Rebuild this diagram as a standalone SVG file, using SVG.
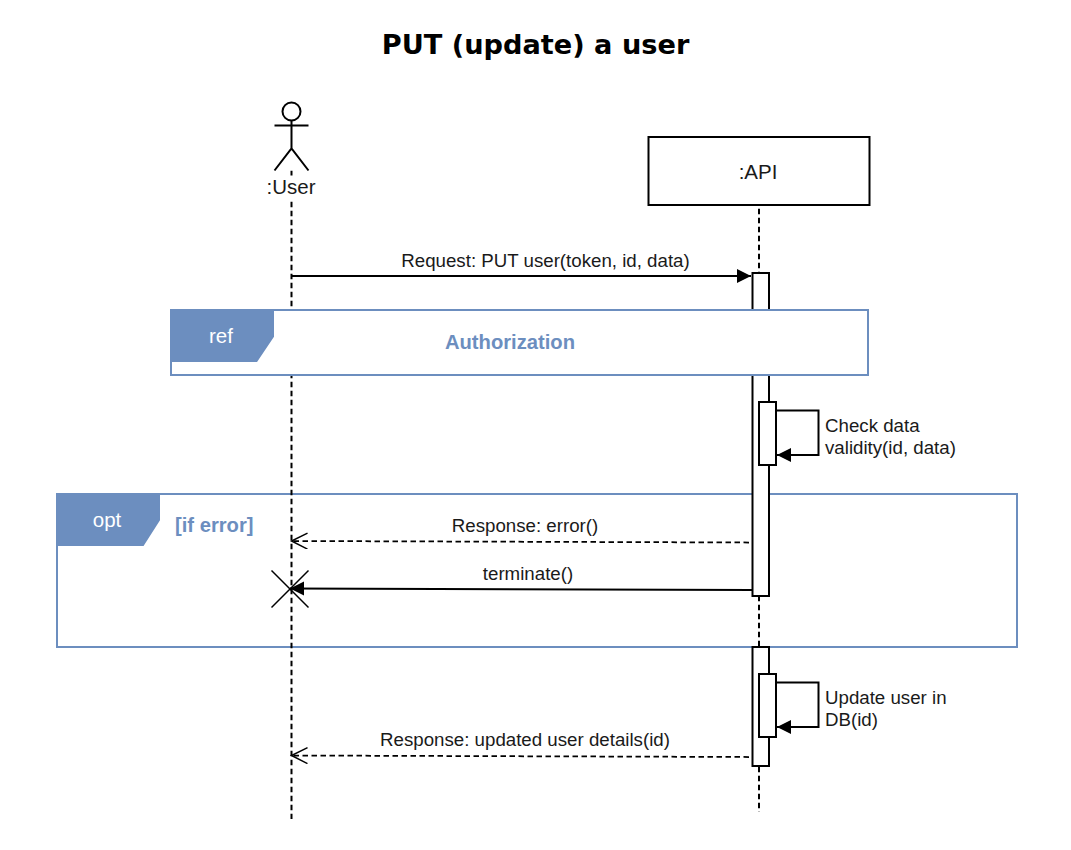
<svg xmlns="http://www.w3.org/2000/svg" width="1071" height="850" viewBox="0 0 1071 850">
<style>
text{font-family:"Liberation Sans",Arial,sans-serif;font-size:18.7px;fill:#1a1a1a}
.title{font-family:"DejaVu Sans",Verdana,sans-serif;font-size:27.2px;font-weight:bold;fill:#000}
.actor{font-size:20.500px}
.line{fill:none;stroke:#000;stroke-width:2}
.life{fill:none;stroke:#000;stroke-width:2;stroke-dasharray:5.500 3.500}
.dash{fill:none;stroke:#000;stroke-width:1.750;stroke-dasharray:5.500 3.500}
.box{fill:#fff;stroke:#000;stroke-width:2}
.frame{fill:none;stroke:#6c8ebf;stroke-width:2}
.framew{fill:#fff;stroke:#6c8ebf;stroke-width:2}
.tab{fill:#6c8ebf;stroke:#6c8ebf;stroke-width:2}
.tabt{fill:#fff;text-anchor:middle;font-size:20.500px}
.guard{fill:#6c8ebf;font-weight:bold;font-size:20.200px}
.c{text-anchor:middle}
</style>
<defs>
<marker id="solid" markerUnits="userSpaceOnUse" markerWidth="16" markerHeight="16" refX="14" refY="7" orient="auto"><path d="M0 0L14 7L0 14Z" fill="#000"/></marker>
<marker id="open" markerUnits="userSpaceOnUse" markerWidth="20" markerHeight="18" refX="17" refY="8" orient="auto"><path d="M1 0L17 8L1 16" fill="none" stroke="#000" stroke-width="1.500"/></marker>
</defs>
<text class="title c" x="535.500" y="54">PUT (update) a user</text>
<g id="opt-frame">
<rect class="frame" x="57" y="494" width="960" height="153"/>
<path class="tab" d="M57 494H159V520L143 545H57Z"/>
<text class="tabt" x="107" y="527">opt</text>
<text class="guard" x="175" y="532">[if error]</text>
</g>
<g id="lifelines">
<path class="life" d="M291.500 170.700V175.500M291.500 201.700V819"/>
<path class="life" d="M759 208.700V812"/>
</g>
<g id="user">
<circle class="line" cx="291.500" cy="111.500" r="9"/>
<path class="line" d="M291.500 120.500V148.500M274.500 125.500H308.500M274.500 170.500L291.500 148.500L308.500 170.500"/>
<text class="c actor" x="291" y="194">:User</text>
</g>
<g id="api">
<rect class="box" x="648.500" y="137" width="221" height="68"/>
<text class="c actor" x="758" y="178.500">:API</text>
</g>
<g id="activation-1"><rect class="box" x="752.500" y="273" width="16.500" height="323"/></g>
<g id="activation-2"><rect class="box" x="759" y="402" width="17" height="63"/></g>
<g id="activation-3"><rect class="box" x="752.500" y="647" width="16.500" height="119"/></g>
<g id="activation-4"><rect class="box" x="759" y="674" width="17" height="63"/></g>
<g id="ref-frame">
<rect class="framew" x="171" y="310" width="697" height="65"/>
<path class="tab" d="M171 310H273V336.500L256.500 361H171Z"/>
<text class="tabt" x="221" y="343">ref</text>
<text class="guard c" x="510" y="349">Authorization</text>
</g>
<g id="connectors">
<path class="line" d="M291.500 276H751" marker-end="url(#solid)"/>
<path class="line" d="M776 410.500H818.500V455H777" marker-end="url(#solid)"/>
<path class="dash" d="M749 542.500L291.500 541" marker-end="url(#open)"/>
<path class="line" d="M752 590L290 588.500" marker-end="url(#solid)"/>
<path class="line" d="M271.500 570.500L308.500 607.500M308.500 570.500L271.500 607.500" style="stroke-width:1.500"/>
<path class="line" d="M776 682.500H818.500V727H777" marker-end="url(#solid)"/>
<path class="dash" d="M749 757L291.500 755.500" marker-end="url(#open)"/>
</g>
<g id="labels">
<text class="c" x="545.500" y="266.500">Request: PUT user(token, id, data)</text>
<text x="825" y="431.500">Check data</text>
<text x="825" y="453.500">validity(id, data)</text>
<text class="c" x="525" y="532">Response: error()</text>
<text class="c" x="528" y="580">terminate()</text>
<text x="825" y="703.500">Update user in</text>
<text x="825" y="725.500">DB(id)</text>
<text class="c" x="525" y="745.500">Response: updated user details(id)</text>
</g>
</svg>
